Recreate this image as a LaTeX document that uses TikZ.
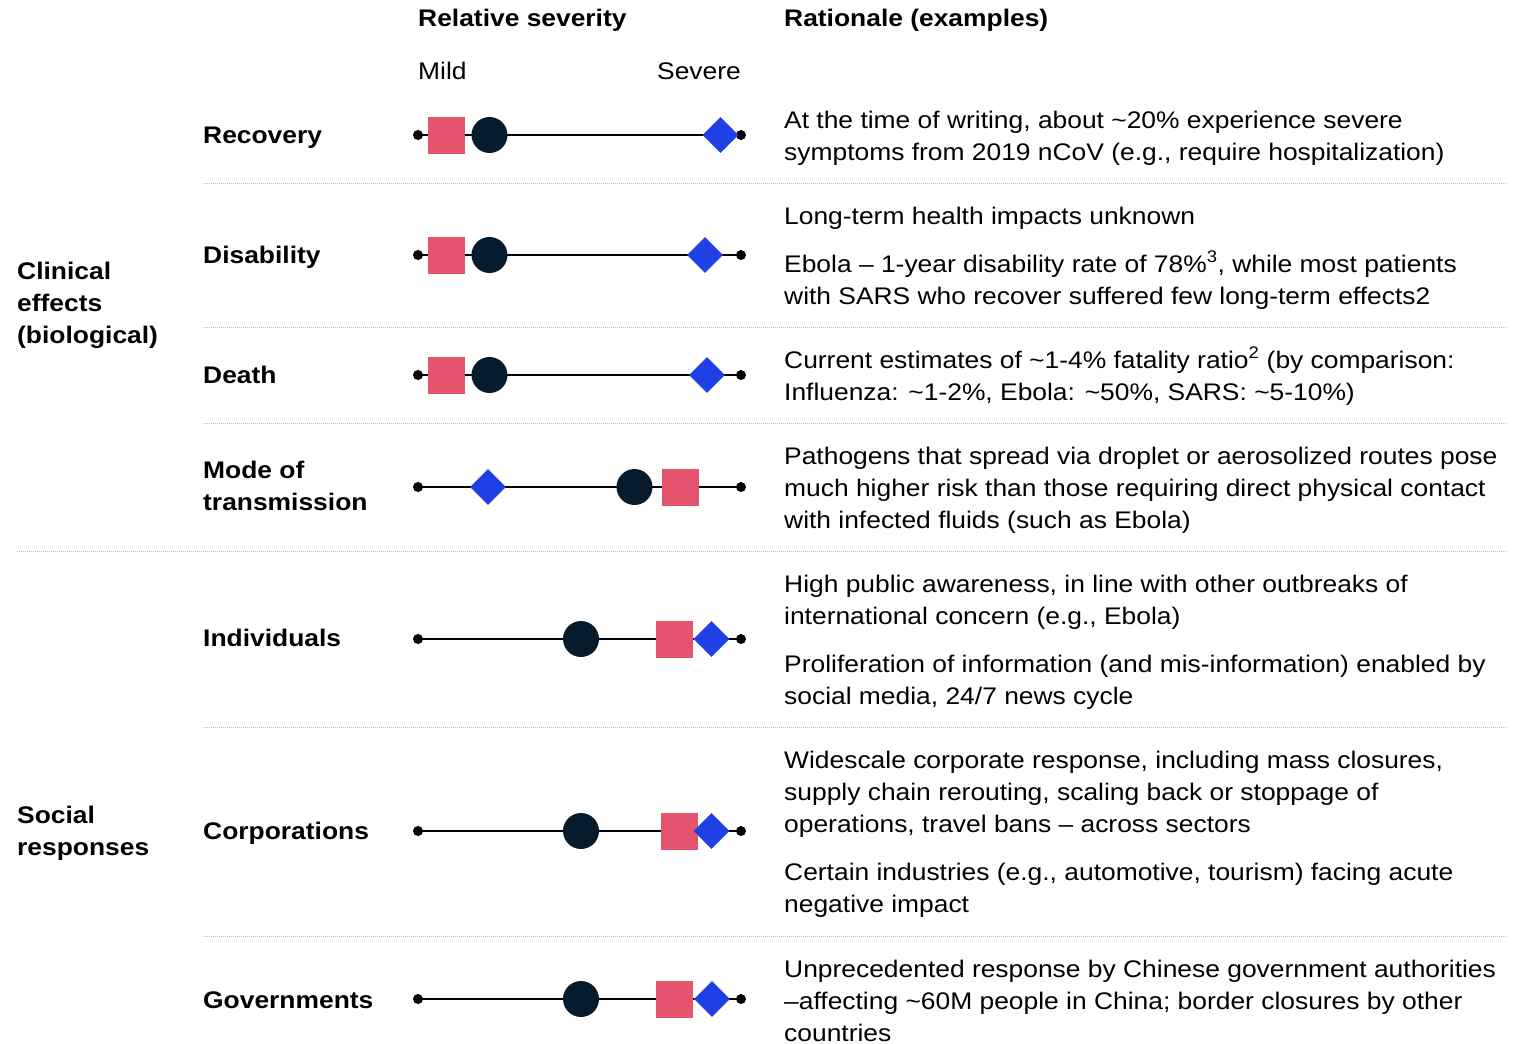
\documentclass[tikz,border=0pt]{standalone}
\usepackage{fontspec}
\setmainfont{Liberation Sans}[FakeStretch=1.1]
\usetikzlibrary{shapes.geometric}
\definecolor{sqcol}{HTML}{E5546E}
\definecolor{cicol}{HTML}{061C2C}
\definecolor{dicol}{HTML}{2040E6}
\definecolor{sepcol}{HTML}{BBBBBB}
\newcommand\tld{\textasciitilde}
\newcommand\sevrow[5]{%
  \coordinate (#1L) at (418,#2);
  \coordinate (#1R) at (741,#2);
  \draw[axisline] (#1L) -- (#1R);
  \fill (#1L) circle (5);
  \fill (#1R) circle (5);
  \node[sqmark] (#1s) at (#3,#2) {};
  \node[cimark] (#1c) at (#4,#2) {};
  \node[dimark] (#1d) at (#5,#2) {};
}
\tikzset{
  txt/.style={inner sep=0pt, anchor=base west, font=\fontsize{24}{32}\selectfont},
  rat/.style={txt},
  lab/.style={txt, font=\fontsize{24}{32}\selectfont\bfseries},
  axisline/.style={line width=2pt, black},
  sqmark/.style={rectangle, fill=sqcol, minimum size=37pt, inner sep=0pt},
  cimark/.style={circle, fill=cicol, minimum size=36pt, inner sep=0pt},
  dimark/.style={diamond, fill=dicol, minimum size=36pt, inner sep=0pt},
  sepline/.style={draw=sepcol, line width=1pt, dash pattern=on 1pt off 1pt},
}
\begin{document}
\begin{tikzpicture}[x=1pt,y=-1pt]
\useasboundingbox (0,0) rectangle (1527,1044);

% headers
\node[lab] (hsev) at (418,27) {Relative severity};
\node[lab] (hrat) at (784,27) {Rationale (examples)};
\node[txt] (mild) at (418,79) {Mild};
\node[txt, anchor=base east] (severe) at (741,79) {Severe};

% group labels
\node[lab] (g1a) at (17,279) {Clinical};
\node[lab] (g1b) at (17,311) {effects};
\node[lab] (g1c) at (17,343) {(biological)};
\node[lab] (g2a) at (17,823) {Social};
\node[lab] (g2b) at (17,855) {responses};

% row labels
\node[lab] (l1) at (203,143) {Recovery};
\node[lab] (l2) at (203,263) {Disability};
\node[lab] (l3) at (203,383) {Death};
\node[lab] (l4a) at (203,478) {Mode of};
\node[lab] (l4b) at (203,510) {transmission};
\node[lab] (l5) at (203,646) {Individuals};
\node[lab] (l6) at (203,839) {Corporations};
\node[lab] (l7) at (203,1008) {Governments};

% severity scales
\sevrow{a}{135}{446.5}{489.5}{720.5}
\sevrow{b}{255}{446.5}{489.5}{705}
\sevrow{c}{375}{446.5}{489.5}{707}
\sevrow{d}{487}{680.5}{634.5}{488}
\sevrow{e}{639}{674.5}{581}{711.5}
\sevrow{f}{831}{679.5}{581}{711.5}
\sevrow{g}{999}{674.5}{581}{712}

% rationale
\node[rat] (r1a) at (784,128) {At the time of writing, about \tld20\% experience severe};
\node[rat] (r1b) at (784,160) {symptoms from 2019 nCoV (e.g., require hospitalization)};
\node[rat] (r2a) at (784,224) {Long-term health impacts unknown};
\node[rat] (r2b) at (784,272) {Ebola -- 1-year disability rate of 78\%\textsuperscript{3}, while most patients};
\node[rat] (r2c) at (784,304) {with SARS who recover suffered few long-term effects2};
\node[rat] (r3a) at (784,368) {Current estimates of \tld1-4\% fatality ratio\textsuperscript{2} (by comparison:};
\node[rat] (r3b) at (784,400) {Influenza: \tld1-2\%, Ebola: \tld50\%, SARS: \tld5-10\%)};
\node[rat] (r4a) at (784,464) {Pathogens that spread via droplet or aerosolized routes pose};
\node[rat] (r4b) at (784,496) {much higher risk than those requiring direct physical contact};
\node[rat] (r4c) at (784,528) {with infected fluids (such as Ebola)};
\node[rat] (r5a) at (784,592) {High public awareness, in line with other outbreaks of};
\node[rat] (r5b) at (784,624) {international concern (e.g., Ebola)};
\node[rat] (r5c) at (784,672) {Proliferation of information (and mis-information) enabled by};
\node[rat] (r5d) at (784,704) {social media, 24/7 news cycle};
\node[rat] (r6a) at (784,768) {Widescale corporate response, including mass closures,};
\node[rat] (r6b) at (784,800) {supply chain rerouting, scaling back or stoppage of};
\node[rat] (r6c) at (784,832) {operations, travel bans -- across sectors};
\node[rat] (r6d) at (784,880) {Certain industries (e.g., automotive, tourism) facing acute};
\node[rat] (r6e) at (784,912) {negative impact};
\node[rat] (r7a) at (784,977) {Unprecedented response by Chinese government authorities};
\node[rat] (r7b) at (784,1009) {--affecting \tld60M people in China; border closures by other};
\node[rat] (r7c) at (784,1041) {countries};

% separators
\coordinate (s1l) at (203,183); \coordinate (s1r) at (1507,183);
\coordinate (s2l) at (203,327); \coordinate (s2r) at (1507,327);
\coordinate (s3l) at (203,423); \coordinate (s3r) at (1507,423);
\coordinate (s4l) at (17,551);  \coordinate (s4r) at (1507,551);
\coordinate (s5l) at (203,727); \coordinate (s5r) at (1507,727);
\coordinate (s6l) at (203,936); \coordinate (s6r) at (1507,936);
\foreach \i in {1,...,6} { \draw[sepline] (s\i l) -- (s\i r); }
\end{tikzpicture}
\end{document}
